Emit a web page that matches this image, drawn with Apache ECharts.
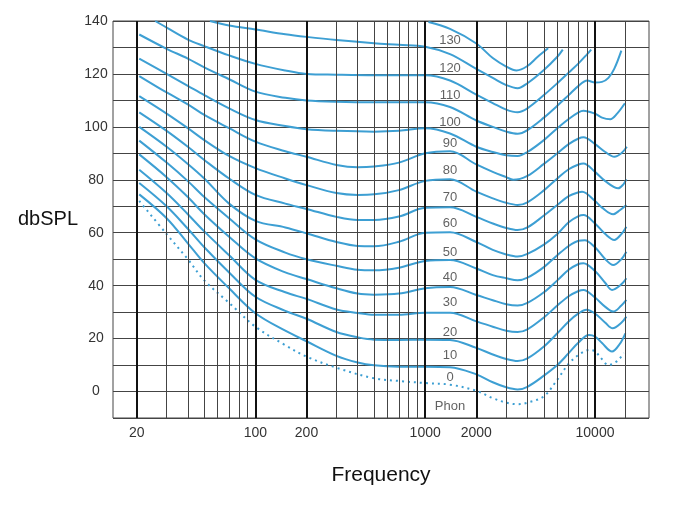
<!DOCTYPE html>
<html>
<head>
<meta charset="utf-8">
<script src="https://cdn.jsdelivr.net/npm/echarts@6/dist/echarts.min.js"></script>
<style>
html,body{margin:0;padding:0;background:#fff;}
#chart{width:680px;height:518px;}
</style>
</head>
<body>
<div id="chart"></div>
<script>
// ---- data ----
const xTickLabels = [20, 100, 200, 1000, 2000, 10000];
const gridFreqs = [20,30,40,50,60,70,80,90,100,200,300,400,500,600,700,800,900,1000,2000,3000,4000,5000,6000,7000,8000,9000,10000,15000];
const thickFreqs = [20, 100, 200, 1000, 2000, 10000];

const phon0 = [[20.7,72],[30,59.5],[40,50],[50,42],[70,33.5],[100,24.5],[150,17.5],[200,13.2],[300,9],[500,5],[700,4],[1000,3.2],[1400,2.6],[2000,0.3],[2500,-2.5],[3000,-4.2],[3500,-4.8],[4000,-4.2],[5000,-1.8],[6000,4.5],[7000,10.5],[8000,13.8],[9300,15.7],[10000,15.2],[11000,12.2],[12000,10],[13500,11.5],[14800,14.5]];
const phon10 = [[20.7,74.5],[30,65.5],[40,56],[50,48.5],[70,39],[100,29.6],[150,23],[200,19],[300,13.5],[400,11],[500,9.9],[700,9.4],[1000,9.4],[1400,9.2],[2000,6.5],[2500,3.5],[3000,1.6],[3500,0.8],[4000,1.8],[5000,6],[6000,10],[7000,14.5],[8000,18.5],[9200,21.4],[10000,20.8],[11000,18.3],[12600,15.1],[14000,18],[15100,22]];
const phon20 = [[20.7,78.8],[30,70],[40,61.5],[50,54.5],[70,45],[100,35.8],[150,30.5],[200,27.5],[300,22.5],[400,20.5],[500,19.6],[700,19.5],[1000,19.6],[1400,19.5],[2000,16.5],[2500,14],[3000,12.3],[3500,11.5],[4000,12.5],[5000,17],[6000,22],[7000,26.5],[8000,29.5],[8900,30.9],[10000,29.5],[11500,26],[12700,23.9],[14300,26],[15300,28.3]];
const phon30 = [[20.7,83.8],[30,75],[40,67],[50,60.5],[70,51.5],[100,42.2],[150,37.5],[200,35],[300,31],[400,29.7],[500,29],[700,29],[1000,29.8],[1400,29.8],[2000,26.5],[2500,24.5],[3000,23],[3500,22.5],[4000,23.5],[5000,28],[6000,32.5],[7000,36],[8000,38],[8550,38.4],[10000,35.5],[11500,32],[12800,30.2],[14300,32.5],[15300,34.6]];
const phon40 = [[20.7,89.6],[30,81],[40,73.5],[50,67],[70,58.5],[100,50.3],[150,45],[200,42.5],[300,39],[400,37],[500,36.6],[700,37],[1000,39],[1400,39.5],[2000,36.5],[2500,34.5],[3000,33],[3500,32.5],[4000,33.5],[5000,37.5],[6000,42],[7000,46],[8000,48.2],[8550,48.5],[10000,45.5],[11500,41],[12600,38.4],[14300,40.5],[15300,42.8]];
const phon50 = [[20.7,94.8],[30,86.5],[40,79.5],[50,73.5],[70,65.5],[100,57.5],[150,52.5],[200,50],[300,47.5],[400,46],[500,45.8],[700,46.8],[1000,49.3],[1400,49.7],[2000,46.5],[2500,44],[3000,42.8],[3500,42],[4000,43],[5000,47],[6000,51.5],[7000,55],[8000,57],[8700,57.2],[10000,54.5],[11500,50],[12800,47.8],[14300,50],[15300,52.8]];
const phon60 = [[20.7,100],[30,92.5],[40,86],[50,80.5],[70,71],[100,64.5],[150,62],[200,59.8],[300,56.5],[400,55],[500,54.9],[700,56.6],[1000,60],[1400,60.2],[2000,56.5],[2500,53.5],[3000,51.8],[3500,51],[4000,52],[5000,55.5],[6000,59.5],[7000,64],[8000,66.3],[8550,66.7],[10000,63.5],[11500,59.5],[13000,57.3],[14300,59.5],[15300,62.3]];
const phon70 = [[20.7,105.5],[30,98.5],[40,92.5],[50,87.5],[70,80.5],[100,74.3],[150,71],[200,69],[300,66],[400,64.8],[500,64.8],[700,66.1],[1000,69.4],[1400,69.6],[2000,66],[2500,63.5],[3000,61.8],[3500,61],[4000,62],[5000,66.5],[6000,70.5],[7000,73.8],[8000,75.3],[8400,75.5],[10000,72],[11000,69.5],[12800,67],[14000,68.5],[15300,70.5]];
const phon80 = [[20.7,111.6],[30,105],[40,99.5],[50,95],[70,89],[100,84.4],[150,80.5],[200,78],[300,75],[400,74.3],[500,74.5],[700,76.1],[1000,79.6],[1400,80.2],[2000,75.5],[2500,73],[3000,71.3],[3500,70.5],[4000,71.5],[5000,76],[6000,80.5],[7000,84],[8000,85.8],[8550,86.2],[10000,83],[11500,79.5],[13700,76.8],[14700,78.3],[15300,80.2]];
const phon90 = [[20.7,119.2],[30,113],[40,108.5],[50,104.5],[70,99.5],[100,94.4],[150,90.8],[200,88.7],[300,85.6],[400,84.7],[500,85],[700,86.5],[1000,90],[1400,90.8],[2000,85.8],[2500,83],[3000,81],[3300,80],[4000,81.5],[5000,86],[6000,90],[7000,93.5],[8000,95.6],[8550,96.1],[10000,93.5],[11500,90.5],[13000,88.7],[14300,90],[15400,92.5]];
const phon100 = [[20.7,125.8],[30,120],[40,115.5],[50,112],[70,107],[100,102.6],[150,100.3],[200,99.1],[300,98.5],[500,98.2],[700,98.5],[1000,99.5],[1400,97.5],[2000,92.5],[2500,90.5],[3000,89.3],[3500,89],[4000,90.5],[5000,95],[6000,99.5],[7000,103],[8000,105.5],[8550,106.1],[10000,105],[11000,103.5],[12300,102.9],[13500,105],[15000,108.9]];
const phon110 = [[20.7,134.9],[30,129.5],[40,125.8],[50,122.5],[70,118],[100,113.3],[150,111],[200,110],[300,109.5],[500,109.3],[1000,109.3],[1400,107.5],[2000,102.4],[2500,100],[3000,98.2],[3500,97.4],[4000,98.8],[5000,103.5],[6000,108],[7000,112],[8000,115.5],[9000,117.5],[10000,116.8],[11000,117],[12000,118.5],[13000,122],[14300,128.8]];
const phon120 = [[25.7,140],[30,137.5],[40,133],[50,130.5],[70,127],[100,123.8],[150,121.3],[200,120],[300,119.7],[500,119.5],[1000,119.5],[1400,117.5],[2000,112.2],[2500,109],[3000,106.5],[3500,105.5],[4000,107],[5000,112],[6000,116.5],[7000,120.5],[8000,124],[9000,127.5],[9500,129.2]];
const phon130 = [[54,140],[70,138.3],[100,136.8],[150,135],[200,134],[300,132.8],[500,131.6],[700,131],[1000,130.3],[1400,127.5],[2000,121.9],[2500,118.5],[3000,115.8],[3500,114.6],[4000,116.5],[5000,121.5],[6000,126.5],[6460,129.2]];
const phon140 = [[1045,139.6],[1400,137],[2000,131.5],[2500,126],[3000,122.8],[3450,121.3],[4000,123],[4600,126.5],[5300,129.7]];

const phonLabels = ['130','120','110','100','90','80','70','60','50','40','30','20','10','0','Phon'];
const labelLevels = [132.8,122.2,112,101.8,93.9,83.7,73.5,63.7,52.4,43,33.8,22.5,13.8,5.5,-5.8];
const labelFreq = 1400;

// ---- chart ----
const FONT = '"Liberation Sans", Arial, Helvetica, sans-serif';
const BLUE = '#3d9fd3';
const solidCurves = [phon10,phon20,phon30,phon40,phon50,phon60,phon70,phon80,phon90,phon100,phon110,phon120,phon130,phon140];

const series = [];
series.push({
  type: 'line', data: [], silent: true, z: 1,
  markLine: {
    silent: true, animation: false, symbol: ['none','none'],
    label: {show: false},
    lineStyle: {color: '#444', width: 1, type: 'solid'},
    emphasis: {disabled: true},
    data: gridFreqs.map(f => thickFreqs.includes(f)
      ? {xAxis: f, lineStyle: {color: '#111', width: 2, type: 'solid'}}
      : {xAxis: f})
  }
});
solidCurves.forEach(d => series.push({
  type: 'line', data: d, smooth: 0.35, showSymbol: false, z: 3,
  lineStyle: {color: BLUE, width: 2}, silent: true
}));
series.push({
  type: 'line', data: phon0, smooth: 0.35, showSymbol: false, z: 3,
  lineStyle: {color: BLUE, width: 2, type: [2, 4]}, silent: true
});
series.push({
  type: 'scatter', symbolSize: 0, z: 4, silent: true,
  data: phonLabels.map((t, i) => [labelFreq, labelLevels[i], t]),
  label: {
    show: true, position: 'inside',
    formatter: p => p.data[2],
    color: '#3a3a3a', fontFamily: FONT,
    fontSize: 13,
    rich: {}
  }
});

const chart = echarts.init(document.getElementById('chart'), null, {renderer: 'canvas'});
chart.setOption({
  animation: false,
  backgroundColor: '#fff',
  grid: {left: 113, right: 31, top: 21, bottom: 100, show: true, borderColor: '#444', borderWidth: 1},
  xAxis: {
    type: 'log', logBase: 10, min: 14.5, max: 20800,
    name: 'Frequency', nameLocation: 'middle', nameGap: 47,
    nameTextStyle: {fontSize: 21, color: '#111', fontFamily: FONT},
    axisLine: {show: false}, axisTick: {show: false},
    splitLine: {show: false}, minorTick: {show: false}, minorSplitLine: {show: false},
    axisLabel: {customValues: xTickLabels, formatter: v => String(v), margin: 8, fontSize: 14, color: '#333', fontFamily: FONT}
  },
  yAxis: {
    type: 'value', min: -10, max: 140, interval: 10,
    name: 'dbSPL', nameLocation: 'middle', nameRotate: 0, nameGap: 35,
    nameTextStyle: {fontSize: 20, color: '#111', fontFamily: FONT, padding: [0, 0, 12, 0]},
    axisLine: {show: false}, axisTick: {show: false},
    splitLine: {show: true, lineStyle: {color: '#444', width: 1}},
    axisLabel: {
      formatter: v => (v >= 0 && v % 20 === 0) ? String(v) : '',
      align: 'center', margin: 17, fontSize: 14, color: '#333', fontFamily: FONT,
      padding: [0, 0, 8, 0]
    }
  },
  series: series
});
</script>
</body>
</html>
